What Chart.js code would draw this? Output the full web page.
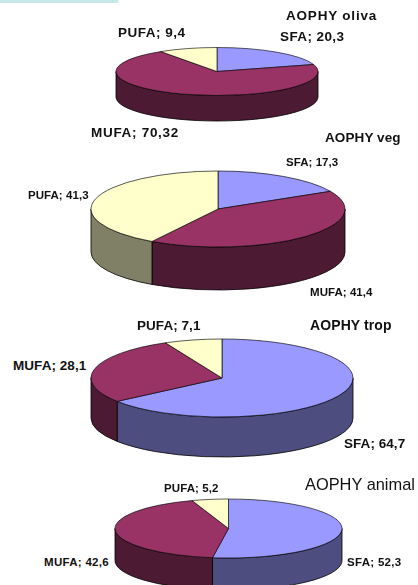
<!DOCTYPE html>
<html><head><meta charset="utf-8">
<script src="https://cdn.jsdelivr.net/npm/chart.js@4/dist/chart.umd.min.js"></script>
<style>
html,body{margin:0;padding:0;background:#fff;width:418px;height:585px;overflow:hidden;position:relative}
canvas{position:absolute}
.t{position:absolute;white-space:nowrap;font-family:"Liberation Sans",Arial,sans-serif;font-weight:bold;line-height:1;color:#111;transform:translateY(-50%)}
#strip{position:absolute;left:0;top:0;width:118px;height:3px;background:#C5E7E7}
</style></head><body>
<div id="strip"></div>
<script>
const categories = ['SFA','MUFA','PUFA'];
const oliva  = [20.3, 70.32, 9.4];
const veg    = [17.3, 41.4, 41.3];
const trop   = [64.7, 28.1, 7.1];
const animal = [52.3, 42.6, 5.2];
const topColors  = ['#9999FF','#993366','#FFFFCC'];
const wallColors = ['#4D4D80','#4D1A33','#808066'];

// layout only: centre x/y, horizontal radius, vertical radius, wall depth
const pies = [
  {values: oliva,  cx: 216.5, cy: 71,  rx: 101,   ry: 24,   depth: 25.5},
  {values: veg,    cx: 217.5, cy: 209, rx: 127,   ry: 38,   depth: 43},
  {values: trop,   cx: 221.7, cy: 378, rx: 131,   ry: 39,   depth: 40},
  {values: animal, cx: 228.8, cy: 528, rx: 113.5, ry: 29.5, depth: 32}
];
// layout only: [pie, category index, left x, centre y, font px, letter spacing]
const labelPlace = [
  [0,0,280,37,13.5,0.4],[0,1,91,133,13.5,0.7],[0,2,118,33,13.5,0.5],
  [1,0,286,163,11.5,0.05],[1,1,310,293,11.5,0.05],[1,2,28,196,11.5,0.05],
  [2,0,344,444,13.5,0.05],[2,1,13,366,13.5,0.05],[2,2,137,326,13.5,0.05],
  [3,0,347,563,11.5,0.3],[3,1,44,563,11.5,0.3],[3,2,164,489,11.5,0.1]
];
const titles = [
  ['AOPHY oliva',286,15.5,13.5,0.8,'bold'],
  ['AOPHY veg',325,138,13.5,0.1,'bold'],
  ['AOPHY trop',310,325,14,0.1,'bold'],
  ['AOPHY animal',305,484,16.4,0,'normal']
];

function addText(str,x,y,size,ls,weight){
  const d=document.createElement('div');
  d.className='t';d.textContent=str;
  d.style.left=x+'px';d.style.top=y+'px';d.style.fontSize=size+'px';
  d.style.letterSpacing=ls+'px';d.style.fontWeight=weight;
  document.body.appendChild(d);
}

const squash = {
  id:'squash',
  beforeDatasetDraw(chart,args,opts){
    const ctx=chart.ctx, arcs=args.meta.data, k=opts.ry/opts.rx;
    const x=arcs[0].x, y=arcs[0].y, R=arcs[0].outerRadius, ry=R*k;
    arcs.forEach((a,i)=>{
      const s=Math.max(a.startAngle,0), e=Math.min(a.endAngle,Math.PI);
      if(e<=s) return;
      ctx.beginPath();
      ctx.ellipse(x,y,R,ry,0,s,e);
      ctx.ellipse(x,y+opts.depth,R,ry,0,e,s,true);
      ctx.closePath();
      ctx.fillStyle=wallColors[i];ctx.fill();
      ctx.strokeStyle='#000';ctx.lineWidth=0.8;ctx.stroke();
    });
    ctx.save();
    ctx.translate(x,y);ctx.scale(1,k);ctx.translate(-x,-y);
  },
  afterDatasetDraw(chart){chart.ctx.restore();}
};

pies.forEach(p=>{
  const c=document.createElement('canvas');
  const w=Math.ceil(2*p.rx+6), h=Math.ceil(2*(p.ry+p.depth+3));
  c.width=w;c.height=h;
  c.style.left=(p.cx-w/2)+'px';c.style.top=(p.cy-h/2)+'px';
  document.body.appendChild(c);
  new Chart(c,{
    type:'pie',
    data:{labels:categories,datasets:[{data:p.values,backgroundColor:topColors,borderColor:'#000',borderWidth:1}]},
    options:{
      responsive:false,animation:false,radius:p.rx,
      plugins:{legend:{display:false},tooltip:{enabled:false},squash:{rx:p.rx,ry:p.ry,depth:p.depth}}
    },
    plugins:[squash]
  });
});

labelPlace.forEach(([pi,ci,x,y,size,ls])=>{
  addText(categories[ci]+'; '+String(pies[pi].values[ci]).replace('.',','),x,y,size,ls,'bold');
});
titles.forEach(([t,x,y,s,ls,wt])=>addText(t,x,y,s,ls,wt));
</script>
</body></html>
